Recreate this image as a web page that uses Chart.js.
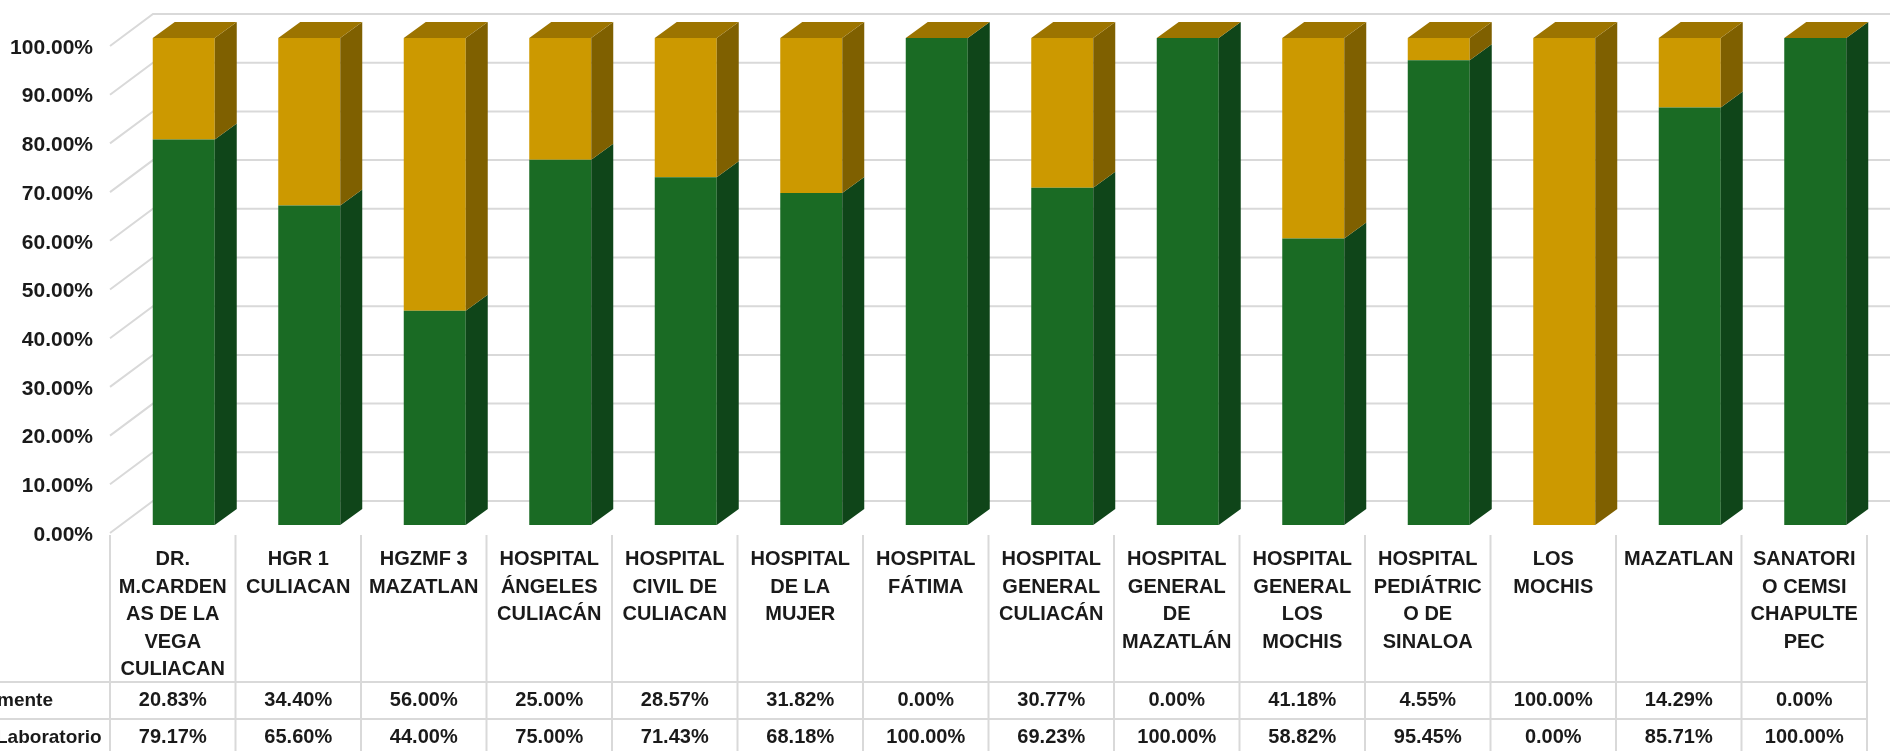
<!DOCTYPE html>
<html>
<head>
<meta charset="utf-8">
<script src="https://cdn.jsdelivr.net/npm/chart.js@4/dist/chart.umd.min.js"></script>
<style>
  html, body { margin: 0; padding: 0; background: #ffffff; overflow: hidden; }
  #wrap { width: 1890px; height: 751px; position: relative; }
</style>
</head>
<body>
<div id="wrap"><canvas id="c" width="1890" height="751"></canvas></div>
<script>
// ---------- DATA ----------
const categories = [
  ["DR.", "M.CARDEN", "AS DE LA", "VEGA", "CULIACAN"],
  ["HGR 1", "CULIACAN"],
  ["HGZMF 3", "MAZATLAN"],
  ["HOSPITAL", "ÁNGELES", "CULIACÁN"],
  ["HOSPITAL", "CIVIL DE", "CULIACAN"],
  ["HOSPITAL", "DE LA", "MUJER"],
  ["HOSPITAL", "FÁTIMA"],
  ["HOSPITAL", "GENERAL", "CULIACÁN"],
  ["HOSPITAL", "GENERAL", "DE", "MAZATLÁN"],
  ["HOSPITAL", "GENERAL", "LOS", "MOCHIS"],
  ["HOSPITAL", "PEDIÁTRIC", "O DE", "SINALOA"],
  ["LOS", "MOCHIS"],
  ["MAZATLAN"],
  ["SANATORI", "O CEMSI", "CHAPULTE", "PEC"]
];
const seriesNames = ["Laboratorio", "mente"];   // visible (clipped) parts of the row headers
const laboratorio = [79.17, 65.60, 44.00, 75.00, 71.43, 68.18, 100.00, 69.23, 100.00, 58.82, 95.45, 0.00, 85.71, 100.00];
const mente       = [20.83, 34.40, 56.00, 25.00, 28.57, 31.82, 0.00, 30.77, 0.00, 41.18, 4.55, 100.00, 14.29, 0.00];
const yTicks = [0, 10, 20, 30, 40, 50, 60, 70, 80, 90, 100];

// ---------- STYLE / GEOMETRY ----------
const FONT = "'Liberation Sans', Arial, sans-serif";
const TEXT = '#1a1a1a';
const GRID = '#d9d9d9';
const DX = 22, DY = 16;             // bar depth
const FRONT_DX = -11, FRONT_DY = 8; // front plane relative to bar front
const WALL_DX = 43, WALL_DY = 32;   // front plane -> back wall

const threeD = {
  id: 'threeD',
  beforeDatasetsDraw(chart) {
    const { ctx, chartArea, scales: { y } } = chart;
    ctx.save();
    ctx.strokeStyle = GRID;
    ctx.lineWidth = 2;
    y.ticks.forEach(t => {
      const py = y.getPixelForValue(t.value);
      const fx = chartArea.left + FRONT_DX, fy = py + FRONT_DY;
      const bx = fx + WALL_DX, by = fy - WALL_DY;
      ctx.beginPath();
      ctx.moveTo(fx, fy);
      ctx.lineTo(bx, by);
      ctx.lineTo(chart.width + 5, by);
      ctx.stroke();
    });
    ctx.restore();
  },
  afterDatasetsDraw(chart) {
    const { ctx } = chart;
    const nds = chart.data.datasets.length;
    ctx.save();
    for (let d = 0; d < nds; d++) {
      const ds = chart.data.datasets[d];
      const meta = chart.getDatasetMeta(d);
      meta.data.forEach(bar => {
        const p = bar.getProps(['x', 'y', 'base', 'width'], true);
        const x1 = p.x + p.width / 2;
        const top = Math.min(p.y, p.base), bot = Math.max(p.y, p.base);
        if (bot - top <= 0) return;
        ctx.fillStyle = ds.sideColor;
        ctx.beginPath();
        ctx.moveTo(x1, bot);
        ctx.lineTo(x1 + DX, bot - DY);
        ctx.lineTo(x1 + DX, top - DY);
        ctx.lineTo(x1, top);
        ctx.closePath();
        ctx.fill();
      });
    }
    // top face of the uppermost segment
    const ds = chart.data.datasets[nds - 1];
    chart.getDatasetMeta(nds - 1).data.forEach(bar => {
      const p = bar.getProps(['x', 'y', 'base', 'width'], true);
      const x0 = p.x - p.width / 2, x1 = p.x + p.width / 2;
      const top = Math.min(p.y, p.base);
      ctx.fillStyle = ds.topColor;
      ctx.beginPath();
      ctx.moveTo(x0, top);
      ctx.lineTo(x1, top);
      ctx.lineTo(x1 + DX, top - DY);
      ctx.lineTo(x0 + DX, top - DY);
      ctx.closePath();
      ctx.fill();
    });
    ctx.restore();
  }
};

const dataTable = {
  id: 'dataTable',
  afterDraw(chart) {
    const { ctx, chartArea, scales: { x } } = chart;
    const n = categories.length;
    const colW = (chartArea.right - chartArea.left) / n;
    const left = x.getPixelForValue(0) - colW / 2 + FRONT_DX;
    const tTop = chartArea.bottom + 10;
    const r1 = 682, r2 = 719, r1c = 700.5, r2c = 737.5;
    ctx.save();
    ctx.strokeStyle = GRID;
    ctx.lineWidth = 2;
    for (let i = 0; i <= n; i++) {
      const xx = left + i * colW;
      ctx.beginPath(); ctx.moveTo(xx, tTop); ctx.lineTo(xx, chart.height + 2); ctx.stroke();
    }
    const right = left + n * colW;
    [r1, r2].forEach(yy => {
      ctx.beginPath(); ctx.moveTo(-2, yy); ctx.lineTo(right, yy); ctx.stroke();
    });
    ctx.fillStyle = TEXT;
    ctx.font = 'bold 20px ' + FONT;
    ctx.textAlign = 'center';
    ctx.textBaseline = 'middle';
    for (let i = 0; i < n; i++) {
      const cx = x.getPixelForValue(i) + FRONT_DX;
      ctx.fillText(mente[i].toFixed(2) + '%', cx, r1c);
      ctx.fillText(laboratorio[i].toFixed(2) + '%', cx, r2c);
    }
    ctx.font = 'bold 19px ' + FONT;
    ctx.textAlign = 'left';
    ctx.fillText(seriesNames[1], -3, r1c);
    ctx.fillText(seriesNames[0], -4, r2c);
    ctx.restore();
  }
};

new Chart(document.getElementById('c'), {
  type: 'bar',
  data: {
    labels: categories,
    datasets: [
      { label: seriesNames[0], data: laboratorio, backgroundColor: '#1a6b24', sideColor: '#0f4519', topColor: '#145a1e', borderWidth: 0, barPercentage: 0.494, categoryPercentage: 1 },
      { label: seriesNames[1], data: mente, backgroundColor: '#cc9900', sideColor: '#7f6000', topColor: '#9c7400', borderWidth: 0, barPercentage: 0.494, categoryPercentage: 1 }
    ]
  },
  options: {
    responsive: false,
    animation: false,
    devicePixelRatio: 1,
    layout: { padding: { top: 38, right: 12, left: 0, bottom: 0 } },
    plugins: { legend: { display: false }, tooltip: { enabled: false } },
    scales: {
      x: {
        stacked: true,
        grid: { display: false },
        border: { display: false },
        ticks: {
          color: TEXT,
          font: { family: FONT, size: 20, weight: 'bold', lineHeight: '27.5px' },
          padding: 13,
          labelOffset: FRONT_DX,
          maxRotation: 0, minRotation: 0, autoSkip: false
        },
        afterFit(scale) { scale.height = 226; scale.paddingLeft = 0; scale.paddingRight = 0; }
      },
      y: {
        stacked: true,
        min: 0, max: 100,
        afterBuildTicks(scale) { scale.ticks = yTicks.map(v => ({ value: v })); },
        grid: { display: false },
        border: { display: false },
        ticks: {
          color: TEXT,
          font: { family: FONT, size: 21, weight: 'bold' },
          padding: 20,
          labelOffset: 10,
          callback: v => v.toFixed(2) + '%'
        },
        afterFit(scale) { scale.width = 121; scale.paddingTop = 0; scale.paddingBottom = 0; }
      }
    }
  },
  plugins: [threeD, dataTable]
});
</script>
</body>
</html>
